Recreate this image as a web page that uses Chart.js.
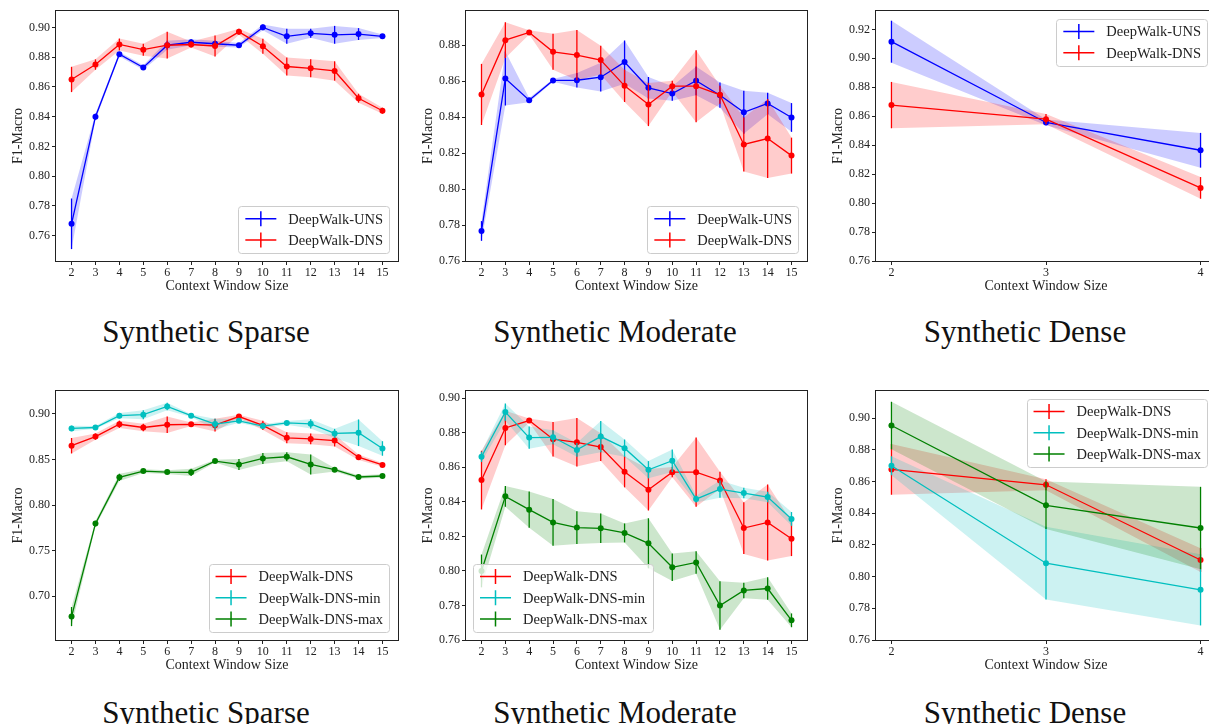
<!DOCTYPE html>
<html>
<head>
<meta charset="utf-8">
<script src="https://cdn.jsdelivr.net/npm/chart.js@4.4.0/dist/chart.umd.min.js"></script>
<style>
  html, body { margin: 0; padding: 0; background: #fff; overflow: hidden; width: 1209px; height: 724px; }
  canvas { position: absolute; }
  .sub { position: absolute; font-family: "Liberation Serif", serif; font-size: 31px; line-height: 31px;
         color: #111; white-space: nowrap; transform: translateX(-50%); }
</style>
</head>
<body>
<div class="sub" style="left:206px;top:316px">Synthetic Sparse</div>
<div class="sub" style="left:615px;top:316px">Synthetic Moderate</div>
<div class="sub" style="left:1025px;top:316px">Synthetic Dense</div>
<div class="sub" style="left:206px;top:697px">Synthetic Sparse</div>
<div class="sub" style="left:615px;top:697px">Synthetic Moderate</div>
<div class="sub" style="left:1025px;top:697px">Synthetic Dense</div>
<script>
// context window sizes
const windowsFull = [2, 3, 4, 5, 6, 7, 8, 9, 10, 11, 12, 13, 14, 15];
const windowsDense = [2, 3, 4];

// Synthetic Sparse
const sparseUns = [0.768, 0.840, 0.882, 0.873, 0.888, 0.890, 0.889, 0.888, 0.900, 0.894, 0.896, 0.895, 0.8955, 0.894];
const sparseUnsErr = [0.017, 0.002, 0.0015, 0.0015, 0.003, 0.002, 0.002, 0.0015, 0.002, 0.005, 0.003, 0.006, 0.004, 0.0012];
const sparseDns = [0.865, 0.875, 0.8885, 0.885, 0.888, 0.8885, 0.8875, 0.897, 0.8873, 0.8737, 0.8725, 0.8707, 0.8524, 0.844];
const sparseDnsErr = [0.0085, 0.0035, 0.004, 0.004, 0.009, 0.002, 0.007, 0.002, 0.005, 0.006, 0.006, 0.0065, 0.003, 0.002];
const sparseDnsMin = [0.884, 0.885, 0.898, 0.899, 0.908, 0.898, 0.8887, 0.8923, 0.8865, 0.890, 0.889, 0.8785, 0.8792, 0.862];
const sparseDnsMinErr = [0.003, 0.0015, 0.003, 0.005, 0.004, 0.0015, 0.006, 0.002, 0.002, 0.002, 0.005, 0.005, 0.0146, 0.008];
const sparseDnsMax = [0.6777, 0.7796, 0.8303, 0.8372, 0.8361, 0.8358, 0.8482, 0.8445, 0.8511, 0.8529, 0.8445, 0.8387, 0.8307, 0.8318];
const sparseDnsMaxErr = [0.0105, 0.003, 0.004, 0.002, 0.002, 0.004, 0.0015, 0.006, 0.006, 0.005, 0.011, 0.002, 0.002, 0.002];

// Synthetic Moderate
const moderateUns = [0.7767, 0.8615, 0.8494, 0.8604, 0.8605, 0.8622, 0.8706, 0.8563, 0.8531, 0.8602, 0.8522, 0.8427, 0.8476, 0.8398];
const moderateUnsErr = [0.0055, 0.015, 0.0012, 0.0008, 0.004, 0.008, 0.012, 0.006, 0.004, 0.008, 0.007, 0.012, 0.006, 0.008];
const moderateDns = [0.8526, 0.8828, 0.8871, 0.8763, 0.8745, 0.8717, 0.8574, 0.847, 0.8572, 0.8572, 0.8524, 0.8248, 0.8281, 0.8186];
const moderateDnsErr = [0.017, 0.010, 0.0012, 0.010, 0.014, 0.008, 0.009, 0.012, 0.003, 0.020, 0.005, 0.015, 0.022, 0.010];
const moderateDnsMin = [0.8661, 0.892, 0.8772, 0.8774, 0.8701, 0.8778, 0.8711, 0.8586, 0.8638, 0.8416, 0.8474, 0.8451, 0.8428, 0.8301];
const moderateDnsMinErr = [0.003, 0.005, 0.0065, 0.004, 0.004, 0.009, 0.005, 0.005, 0.0065, 0.002, 0.005, 0.003, 0.003, 0.004];
const moderateDnsMax = [0.800, 0.8432, 0.8355, 0.8281, 0.8251, 0.8247, 0.822, 0.816, 0.8021, 0.8049, 0.780, 0.7887, 0.7898, 0.7714];
const moderateDnsMaxErr = [0.0095, 0.006, 0.0105, 0.0135, 0.0095, 0.0085, 0.0055, 0.0145, 0.008, 0.0065, 0.014, 0.0045, 0.0065, 0.004];

// Synthetic Dense
const denseUns = [0.9115, 0.8557, 0.8365];
const denseUnsErr = [0.0145, 0.002, 0.012];
const denseDns = [0.8677, 0.858, 0.8105];
const denseDnsErr = [0.016, 0.0035, 0.0075];
const denseDnsMin = [0.870, 0.8085, 0.7917];
const denseDnsMinErr = [0.006, 0.023, 0.0225];
const denseDnsMax = [0.8954, 0.845, 0.8307];
const denseDnsMaxErr = [0.015, 0.015, 0.026];

// y tick labels
const ticksA = [0.76, 0.78, 0.80, 0.82, 0.84, 0.86, 0.88, 0.90];
const ticksB = [0.76, 0.78, 0.80, 0.82, 0.84, 0.86, 0.88];
const ticksC = [0.76, 0.78, 0.80, 0.82, 0.84, 0.86, 0.88, 0.90, 0.92];
const ticksD = [0.70, 0.75, 0.80, 0.85, 0.90];

const BLUE = '#0000ff', RED = '#ff0000', CYAN = '#00bfbf', GREEN = '#008000';
const SERIF = '"Liberation Serif", serif';
const INK = '#222';

Chart.defaults.font.family = SERIF;
Chart.defaults.color = INK;

function fade(hex) {
  const n = parseInt(hex.slice(1), 16);
  return `rgba(${n >> 16},${(n >> 8) & 255},${n & 255},0.2)`;
}

const errorBars = {
  id: 'errorBars',
  beforeDatasetDraw(chart, args) {
    const ds = chart.data.datasets[args.index];
    if (!ds.err) return;
    const { ctx, chartArea: a, scales: { x, y } } = chart;
    ctx.save();
    ctx.beginPath();
    ctx.rect(a.left, a.top, a.right - a.left, a.bottom - a.top);
    ctx.clip();
    ctx.strokeStyle = ds.borderColor;
    ctx.lineWidth = 1.3;
    ds.data.forEach((pt, i) => {
      const px = x.getPixelForValue(pt.x);
      ctx.beginPath();
      ctx.moveTo(px, y.getPixelForValue(pt.y - ds.err[i]));
      ctx.lineTo(px, y.getPixelForValue(pt.y + ds.err[i]));
      ctx.stroke();
    });
    ctx.restore();
  }
};

const frame = {
  id: 'frame',
  afterDatasetsDraw(chart) {
    const { ctx, chartArea: a } = chart;
    ctx.save();
    ctx.strokeStyle = '#222';
    ctx.lineWidth = 1;
    ctx.strokeRect(Math.round(a.left) - 0.5, Math.round(a.top) - 0.5,
      Math.round(a.right - a.left) + 1, Math.round(a.bottom - a.top) + 1);
    ctx.restore();
  }
};

const boxLegend = {
  id: 'boxLegend',
  afterDraw(chart, args, opts) {
    const items = chart.data.datasets.filter(d => d.err).sort((p, q) => p.rank - q.rank);
    const { ctx, chartArea: a } = chart;
    ctx.save();
    ctx.font = `14.5px ${SERIF}`;
    const textW = Math.max(...items.map(d => ctx.measureText(d.label).width));
    const rowH = 21.3;
    const w = 50 + textW + 6;
    const h = 25.5 + (items.length - 1) * rowH;
    const x = opts.loc.includes('r') ? a.right - 9 - w : a.left + 7;
    const y = opts.loc.startsWith('u') ? a.top + 8 : a.bottom - 8 - h;
    ctx.beginPath();
    ctx.roundRect(Math.round(x) + 0.5, Math.round(y) + 0.5, Math.round(w), Math.round(h), 3);
    ctx.fillStyle = 'rgba(255,255,255,0.8)';
    ctx.fill();
    ctx.strokeStyle = '#cccccc';
    ctx.lineWidth = 1;
    ctx.stroke();
    items.forEach((d, i) => {
      const cy = y + 12.5 + i * rowH;
      ctx.strokeStyle = d.borderColor;
      ctx.lineWidth = 1.5;
      ctx.beginPath();
      ctx.moveTo(x + 7, cy); ctx.lineTo(x + 38, cy);
      ctx.moveTo(x + 22.5, cy - 7.5); ctx.lineTo(x + 22.5, cy + 7.5);
      ctx.stroke();
      ctx.fillStyle = INK;
      ctx.textBaseline = 'middle';
      ctx.fillText(d.label, x + 50, cy + 1);
    });
    ctx.restore();
  }
};

const panels = [
  { area: [56, 11, 398, 261], xs: windowsFull, xMin: 1.35, xMax: 15.65, yMin: 0.743, yMax: 0.911, yTicks: ticksA, loc: 'lr',
    series: [['DeepWalk-UNS', BLUE, sparseUns, sparseUnsErr], ['DeepWalk-DNS', RED, sparseDns, sparseDnsErr]] },
  { area: [466, 11, 807, 261], xs: windowsFull, xMin: 1.35, xMax: 15.65, yMin: 0.76, yMax: 0.899, yTicks: ticksB, loc: 'lr',
    series: [['DeepWalk-UNS', BLUE, moderateUns, moderateUnsErr], ['DeepWalk-DNS', RED, moderateDns, moderateDnsErr]] },
  { area: [876, 11, 1216, 261], xs: windowsDense, xMin: 1.9, xMax: 4.1, yMin: 0.76, yMax: 0.9327, yTicks: ticksC, loc: 'ur',
    series: [['DeepWalk-UNS', BLUE, denseUns, denseUnsErr], ['DeepWalk-DNS', RED, denseDns, denseDnsErr]] },
  { area: [56, 391, 398, 640], xs: windowsFull, xMin: 1.35, xMax: 15.65, yMin: 0.652, yMax: 0.925, yTicks: ticksD, loc: 'lr',
    series: [['DeepWalk-DNS', RED, sparseDns, sparseDnsErr], ['DeepWalk-DNS-min', CYAN, sparseDnsMin, sparseDnsMinErr],
             ['DeepWalk-DNS-max', GREEN, sparseDnsMax, sparseDnsMaxErr]] },
  { area: [466, 391, 807, 640], xs: windowsFull, xMin: 1.35, xMax: 15.65, yMin: 0.76, yMax: 0.9042, yTicks: ticksA, loc: 'll',
    series: [['DeepWalk-DNS', RED, moderateDns, moderateDnsErr], ['DeepWalk-DNS-min', CYAN, moderateDnsMin, moderateDnsMinErr],
             ['DeepWalk-DNS-max', GREEN, moderateDnsMax, moderateDnsMaxErr]] },
  { area: [876, 391, 1216, 640], xs: windowsDense, xMin: 1.9, xMax: 4.1, yMin: 0.76, yMax: 0.9172, yTicks: ticksA, loc: 'ur',
    series: [['DeepWalk-DNS', RED, denseDns, denseDnsErr], ['DeepWalk-DNS-min', CYAN, denseDnsMin, denseDnsMinErr],
             ['DeepWalk-DNS-max', GREEN, denseDnsMax, denseDnsMaxErr]] }
];

const AXIS_W = 56, AXIS_H = 40, PAD_T = 11, PAD_R = 12;

function makePanel(p) {
  const [l, t, r, b] = p.area;
  const canvas = document.createElement('canvas');
  canvas.width = r - l + AXIS_W + PAD_R;
  canvas.height = b - t + PAD_T + AXIS_H;
  canvas.style.left = (l - AXIS_W) + 'px';
  canvas.style.top = (t - PAD_T) + 'px';
  document.body.appendChild(canvas);

  const n = p.series.length;
  const datasets = [];
  p.series.forEach(([label, color, ys, err], i) => {
    const lo = datasets.length;
    datasets.push({ data: p.xs.map((x, k) => ({ x, y: ys[k] - err[k] })), borderWidth: 0, pointRadius: 0,
      fill: false, order: 20 + n - i });
    datasets.push({ data: p.xs.map((x, k) => ({ x, y: ys[k] + err[k] })), borderWidth: 0, pointRadius: 0,
      fill: lo, backgroundColor: fade(color), order: 20 + n - i });
  });
  p.series.forEach(([label, color, ys, err], i) => {
    datasets.push({ label, rank: i, data: p.xs.map((x, k) => ({ x, y: ys[k] })), err,
      borderColor: color, backgroundColor: color, borderWidth: 1.3,
      pointRadius: 3, pointBorderWidth: 0, pointBackgroundColor: color, fill: false, order: 1 + n - i });
  });

  new Chart(canvas, {
    type: 'line',
    data: { datasets },
    plugins: [errorBars, frame, boxLegend],
    options: {
      responsive: false,
      animation: false,
      devicePixelRatio: 1,
      layout: { padding: { top: PAD_T, right: PAD_R, left: 0, bottom: 0 } },
      plugins: { legend: { display: false }, tooltip: { enabled: false }, boxLegend: { loc: p.loc } },
      elements: { line: { tension: 0 } },
      scales: {
        x: {
          type: 'linear', min: p.xMin, max: p.xMax,
          afterBuildTicks: axis => { axis.ticks = p.xs.map(v => ({ value: v })); },
          afterFit: axis => { axis.height = AXIS_H; },
          border: { display: false },
          grid: { drawOnChartArea: false, tickLength: 4, tickColor: '#222', tickWidth: 1 },
          ticks: { padding: 1, font: { size: 12 }, color: INK, maxRotation: 0, callback: v => String(v) },
          title: { display: true, text: 'Context Window Size', font: { size: 14 }, color: INK, padding: { top: 0, bottom: 6.6 } }
        },
        y: {
          min: p.yMin, max: p.yMax,
          afterBuildTicks: axis => { axis.ticks = p.yTicks.map(v => ({ value: v })); },
          afterFit: axis => { axis.width = AXIS_W; },
          border: { display: false },
          grid: { drawOnChartArea: false, tickLength: 4, tickColor: '#222', tickWidth: 1 },
          ticks: { padding: 2, font: { size: 12 }, color: INK, callback: v => v.toFixed(2) },
          title: { display: true, text: 'F1-Macro', font: { size: 14 }, color: INK, padding: { top: 9.6, bottom: 0 } }
        }
      }
    }
  });
}

panels.forEach(makePanel);
</script>
</body>
</html>
